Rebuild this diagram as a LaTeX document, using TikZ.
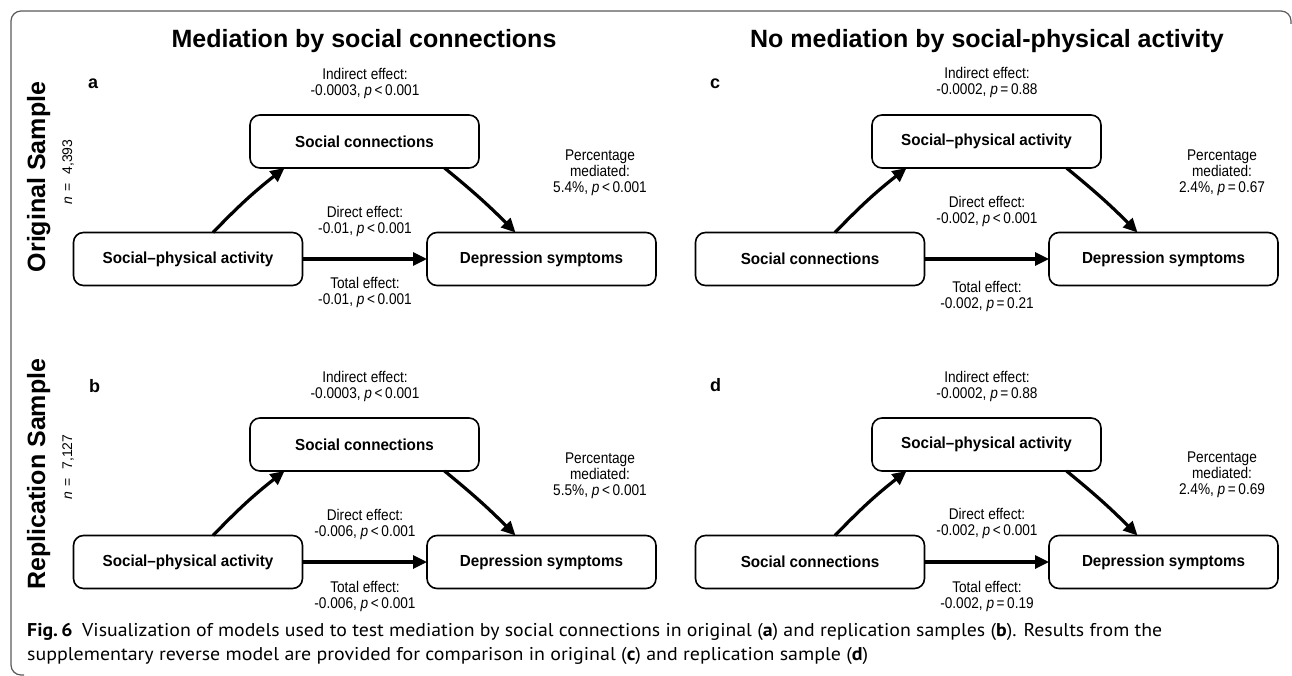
\documentclass[tikz,border=0pt]{standalone}
\usepackage{fontspec}
\usepackage{graphicx}
\usetikzlibrary{arrows.meta}
\newfontfamily\arialf{Liberation Sans}
\newfontfamily\arialn{Liberation Sans}[FakeStretch=0.88]
\newfontfamily\arialb{Liberation Sans}[FakeStretch=0.95]
\newfontfamily\capf{PT Sans}
\newcommand{\pLT}{\textit{p}\,<\,}
\newcommand{\pEQ}{\textit{p}\,=\,}
\tikzset{
  mbox/.style={draw=black, line width=1.6pt, rounded corners=10pt, minimum width=229pt, minimum height=53pt, inner sep=0pt, outer sep=0pt, font=\arialb\bfseries\fontsize{16pt}{18pt}\selectfont},
  lbl/.style={align=center, inner sep=0pt, font=\arialn\fontsize{15.5pt}{16pt}\selectfont},
  ttl/.style={inner sep=0pt, anchor=base, font=\arialf\bfseries\fontsize{25pt}{28pt}\selectfont},
  plab/.style={inner sep=0pt, anchor=base west, font=\arialf\bfseries\fontsize{18pt}{20pt}\selectfont},
  side/.style={inner sep=0pt, anchor=base, rotate=90, font=\arialf\bfseries\fontsize{25pt}{28pt}\selectfont},
  nlab/.style={inner sep=0pt, anchor=base, rotate=90, font=\arialf\fontsize{14pt}{16pt}\selectfont},
  arr/.style={line width=3.2pt, -{Triangle[length=14pt,width=13pt]}},
  captxt/.style={inner sep=0pt, anchor=base west, font=\capf\fontsize{18.5pt}{24pt}\selectfont},
  framepath/.style={draw=black!65, line width=1.2pt, rounded corners=10pt}
}
\begin{document}
\begin{tikzpicture}[x=1pt,y=-1pt]
\useasboundingbox (0,0) rectangle (1292,676);
\draw[framepath] (1291,24) -- (1291,11) -- (11,11) -- (11,675) -- (24,675);

% titles
\node[ttl] (t1) at (364,48) {Mediation by social connections};
\node[ttl] (t2) at (987,48) {No mediation by social-physical activity};

% side labels
\node[side] (s1) at (45,177) {Original Sample};
\node[nlab] (n1) at (72,172) {\textit{n}\hspace{5pt}=\hspace{9pt}4,393};
\node[side] (s2) at (45,474) {Replication Sample};
\node[nlab] (n2) at (72,467) {\textit{n}\hspace{5pt}=\hspace{9pt}7,127};

% panel letters
\node[plab] (la) at (88,89) {a};
\node[plab] (lb) at (89,392) {b};
\node[plab] (lc) at (710,89) {c};
\node[plab] (ld) at (710,391) {d};

% ---------- panel a ----------
\node[mbox] (sc1) at (364.5,141.5) {Social connections};
\node[mbox] (spa1) at (188,259) {Social–physical activity};
\node[mbox] (ds1) at (541.5,259) {Depression symptoms};
\draw[arr] ([xshift=25pt]spa1.north) to[bend left=4] ([xshift=-80pt]sc1.south);
\draw[arr] ([xshift=80pt]sc1.south) to[bend left=3] ([xshift=-26pt]ds1.north);
\draw[arr] (spa1.east) -- (ds1.west);
\node[lbl] (ia) at (365,83) {Indirect effect:\\-0.0003, \pLT 0.001};
\node[lbl] (da) at (365,221) {Direct effect:\\-0.01, \pLT 0.001};
\node[lbl] (ta) at (365,292) {Total effect:\\-0.01, \pLT 0.001};
\node[lbl] (pa) at (600,172.5) {Percentage\\mediated:\\5.4\%, \pLT 0.001};

% ---------- panel b ----------
\node[mbox] (sc2) at (364.5,444.5) {Social connections};
\node[mbox] (spa2) at (188,562) {Social–physical activity};
\node[mbox] (ds2) at (541.5,562) {Depression symptoms};
\draw[arr] ([xshift=25pt]spa2.north) to[bend left=4] ([xshift=-80pt]sc2.south);
\draw[arr] ([xshift=80pt]sc2.south) to[bend left=3] ([xshift=-26pt]ds2.north);
\draw[arr] (spa2.east) -- (ds2.west);
\node[lbl] (ib) at (365,386) {Indirect effect:\\-0.0003, \pLT 0.001};
\node[lbl] (db) at (365,524) {Direct effect:\\-0.006, \pLT 0.001};
\node[lbl] (tb) at (365,596) {Total effect:\\-0.006, \pLT 0.001};
\node[lbl] (pb) at (600,475.5) {Percentage\\mediated:\\5.5\%, \pLT 0.001};

% ---------- panel c ----------
\node[mbox] (spa3) at (986.5,141.5) {Social–physical activity};
\node[mbox] (sc3) at (810,259) {Social connections};
\node[mbox] (ds3) at (1163.5,259) {Depression symptoms};
\draw[arr] ([xshift=25pt]sc3.north) to[bend left=4] ([xshift=-80pt]spa3.south);
\draw[arr] ([xshift=80pt]spa3.south) to[bend left=3] ([xshift=-26pt]ds3.north);
\draw[arr] (sc3.east) -- (ds3.west);
\node[lbl] (ic) at (987,82.5) {Indirect effect:\\-0.0002, \pEQ 0.88};
\node[lbl] (dc) at (987,211.5) {Direct effect:\\-0.002, \pLT 0.001};
\node[lbl] (tc) at (987,296) {Total effect:\\-0.002, \pEQ 0.21};
\node[lbl] (pc) at (1222,173) {Percentage\\mediated:\\2.4\%, \pEQ 0.67};

% ---------- panel d ----------
\node[mbox] (spa4) at (986.5,444.5) {Social–physical activity};
\node[mbox] (sc4) at (810,562) {Social connections};
\node[mbox] (ds4) at (1163.5,562) {Depression symptoms};
\draw[arr] ([xshift=25pt]sc4.north) to[bend left=4] ([xshift=-80pt]spa4.south);
\draw[arr] ([xshift=80pt]spa4.south) to[bend left=3] ([xshift=-26pt]ds4.north);
\draw[arr] (sc4.east) -- (ds4.west);
\node[lbl] (id) at (987,386) {Indirect effect:\\-0.0002, \pEQ 0.88};
\node[lbl] (dd) at (987,523) {Direct effect:\\-0.002, \pLT 0.001};
\node[lbl] (td) at (987,596) {Total effect:\\-0.002, \pEQ 0.19};
\node[lbl] (pd) at (1222,475) {Percentage\\mediated:\\2.4\%, \pEQ 0.69};

% caption
\node[captxt] (c1) at (27,636) {\resizebox{1135pt}{\height}{\textbf{Fig.\,6}\hspace{9pt}Visualization of models used to test mediation by social connections in original (\textbf{a}) and replication samples (\textbf{b}). Results from the}};
\node[captxt] (c2) at (27,660) {\resizebox{841pt}{\height}{supplementary reverse model are provided for comparison in original (\textbf{c}) and replication sample (\textbf{d})}};
\end{tikzpicture}
\end{document}
